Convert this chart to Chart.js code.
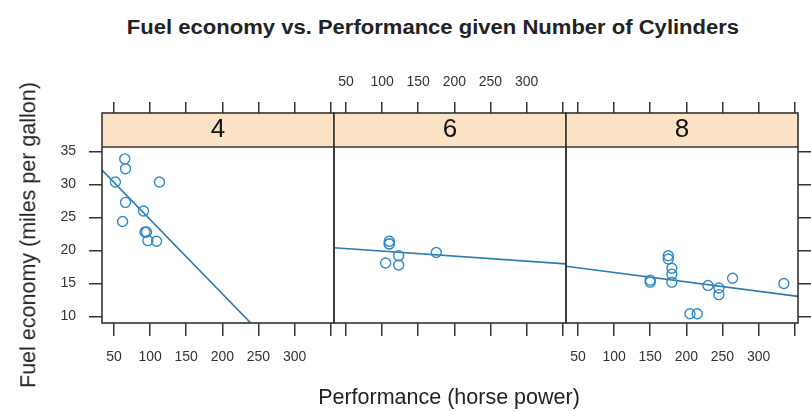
<!DOCTYPE html>
<html>
<head>
<meta charset="utf-8">
<title>Fuel economy vs. Performance given Number of Cylinders</title>
<script src="https://cdn.jsdelivr.net/npm/chart.js@4.4.1/dist/chart.umd.min.js"></script>
<style>
  html, body { margin: 0; padding: 0; background: #fff; width: 811px; height: 411px; overflow: hidden;
               font-family: "Liberation Sans", Arial, Helvetica, sans-serif; color: #222; }
  #wrap { position: relative; width: 811px; height: 411px; }
  #wrap canvas { position: absolute; left: 0; top: 0; }
  .lbl { position: absolute; white-space: nowrap; line-height: 1; }
</style>
</head>
<body>
<div id="wrap">
  <div class="lbl" id="mainTitle" style="left:433px;top:18px;font-size:19.5px;font-weight:bold;transform:translateX(-50%) scaleX(1.13);">Fuel economy vs. Performance given Number of Cylinders</div>
  <canvas id="panel0" width="811" height="411"></canvas>
  <canvas id="panel1" width="811" height="411"></canvas>
  <canvas id="panel2" width="811" height="411"></canvas>
  <div class="lbl" id="xLabel" style="left:449px;top:387px;font-size:21.5px;transform:translateX(-50%);">Performance (horse power)</div>
  <div class="lbl" id="yLabel" style="left:28.5px;top:235px;font-size:21.5px;transform:translate(-50%,-50%) rotate(-90deg);">Fuel economy (miles per gallon)</div>
</div>
<script>
// Panels: one per number of cylinders
const cylinders = ['4', '6', '8'];

// Horse power and miles per gallon, per cylinder group
const hp4  = [93, 62, 95, 66, 52, 65, 97, 66, 91, 113, 109];
const mpg4 = [22.8, 24.4, 22.8, 32.4, 30.4, 33.9, 21.5, 27.3, 26.0, 30.4, 21.4];

const hp6  = [110, 110, 110, 105, 123, 123, 175];
const mpg6 = [21.0, 21.0, 21.4, 18.1, 19.2, 17.8, 19.7];

const hp8  = [175, 245, 180, 180, 180, 205, 215, 230, 150, 150, 245, 175, 264, 335];
const mpg8 = [18.7, 14.3, 16.4, 17.3, 15.2, 10.4, 10.4, 14.7, 15.5, 15.2, 13.3, 19.2, 15.8, 15.0];

// Axis ticks and limits
const xTicks = [50, 100, 150, 200, 250, 300, 350];
const xTickLabels = ['50', '100', '150', '200', '250', '300', ''];
const yTicks = [10, 15, 20, 25, 30, 35];
const xLimits = [33.5, 354.5];
const yLimits = [9.0, 35.7];

const groups = [
  { hp: hp4, mpg: mpg4 },
  { hp: hp6, mpg: mpg6 },
  { hp: hp8, mpg: mpg8 }
];

// Layout of the trellis panels (page pixels)
const PANEL_LEFT = [102, 334, 566];
const PANEL_W = 232;
const STRIP_TOP = 113;
const PLOT_BOTTOM = 323;
const PAGE_W = 811, PAGE_H = 411;
const Y_AXIS_W = 50, Y_RIGHT_W = 12;
const X_AXIS_H = 50;

const POINT_COLOR = '#3089c8';
const LINE_COLOR = '#2c7bb0';
const FRAME_COLOR = '#333333';
const STRIP_FILL = '#fde3c6';
const TEXT_COLOR = '#333333';

Chart.defaults.font.family = '"Liberation Sans", Arial, Helvetica, sans-serif';

// Ordinary least-squares fit of mpg on hp
function leastSquares(xs, ys) {
  const n = xs.length;
  const mx = xs.reduce((a, b) => a + b, 0) / n;
  const my = ys.reduce((a, b) => a + b, 0) / n;
  let sxy = 0, sxx = 0;
  for (let i = 0; i < n; i++) {
    sxy += (xs[i] - mx) * (ys[i] - my);
    sxx += (xs[i] - mx) * (xs[i] - mx);
  }
  const slope = sxy / sxx;
  return { slope, intercept: my - slope * mx };
}

// Strip background and panel frame
const stripFrame = {
  id: 'stripFrame',
  beforeDraw(chart) {
    const t = chart.titleBlock;
    const ctx = chart.ctx;
    ctx.save();
    ctx.fillStyle = STRIP_FILL;
    ctx.fillRect(t.left, t.top, t.width, t.height);
    ctx.restore();
  },
  afterDraw(chart) {
    const { left, right, top, bottom } = chart.chartArea;
    const t = chart.titleBlock;
    const ctx = chart.ctx;
    ctx.save();
    ctx.strokeStyle = FRAME_COLOR;
    ctx.lineWidth = 1.6;
    ctx.strokeRect(left, t.top, right - left, bottom - t.top);
    ctx.beginPath();
    ctx.moveTo(left, top);
    ctx.lineTo(right, top);
    ctx.stroke();
    ctx.restore();
  }
};

function tickGrid(len) {
  return { drawOnChartArea: false, drawTicks: true, tickLength: len, color: FRAME_COLOR, lineWidth: 1.5 };
}

function buildPanel(i) {
  const g = groups[i];
  const fit = leastSquares(g.hp, g.mpg);
  const points = g.hp.map((h, k) => ({ x: h, y: g.mpg[k] }));
  const fitLine = xLimits.map(x => ({ x: x, y: fit.intercept + fit.slope * x }));

  const labelLeft = i === 0;
  const tickRight = i === 2;
  const showY = labelLeft || tickRight;
  const bottomLabels = i !== 1;
  const topLabels = i === 1;
  const topAxisH = topLabels ? 45 : 11;

  const padLeft = labelLeft ? PANEL_LEFT[i] - Y_AXIS_W : PANEL_LEFT[i];
  const padRight = PAGE_W - (PANEL_LEFT[i] + PANEL_W) - (tickRight ? Y_RIGHT_W : 0);

  return new Chart(document.getElementById('panel' + i), {
    type: 'scatter',
    data: {
      datasets: [
        {
          data: points,
          showLine: false,
          pointStyle: 'circle',
          pointRadius: 5,
          pointBorderWidth: 1.4,
          pointBorderColor: POINT_COLOR,
          pointBackgroundColor: 'rgba(0,0,0,0)',
          borderColor: POINT_COLOR,
          backgroundColor: 'rgba(0,0,0,0)'
        },
        {
          data: fitLine,
          showLine: true,
          pointRadius: 0,
          borderColor: LINE_COLOR,
          borderWidth: 1.6
        }
      ]
    },
    options: {
      responsive: false,
      animation: false,
      devicePixelRatio: 1,
      events: [],
      layout: {
        padding: { left: padLeft, right: padRight, top: STRIP_TOP - topAxisH, bottom: PAGE_H - PLOT_BOTTOM - X_AXIS_H }
      },
      plugins: {
        legend: { display: false },
        tooltip: { enabled: false },
        title: {
          display: true,
          text: cylinders[i],
          position: 'top',
          fullSize: false,
          weight: -10,
          color: '#111',
          font: { size: 26, weight: 'normal', lineHeight: 1 },
          padding: { top: 4, bottom: 4 }
        }
      },
      scales: {
        x: {
          type: 'linear',
          position: 'bottom',
          min: xLimits[0], max: xLimits[1],
          afterBuildTicks: s => { s.ticks = xTicks.map(v => ({ value: v })); },
          afterFit: s => { s.height = X_AXIS_H; },
          grid: tickGrid(13),
          border: { display: false },
          ticks: {
            display: bottomLabels,
            padding: 13,
            color: TEXT_COLOR,
            font: { size: 14 },
            maxRotation: 0,
            autoSkip: false,
            callback: (v, idx) => xTickLabels[idx]
          }
        },
        xTop: {
          type: 'linear',
          position: 'top',
          weight: 1,
          min: xLimits[0], max: xLimits[1],
          afterBuildTicks: s => { s.ticks = xTicks.map(v => ({ value: v })); },
          afterFit: s => { s.height = topAxisH; },
          grid: tickGrid(11),
          border: { display: false },
          ticks: {
            display: topLabels,
            padding: 11,
            color: TEXT_COLOR,
            font: { size: 14 },
            maxRotation: 0,
            autoSkip: false,
            callback: (v, idx) => xTickLabels[idx]
          }
        },
        y: {
          type: 'linear',
          display: showY,
          position: tickRight ? 'right' : 'left',
          min: yLimits[0], max: yLimits[1],
          afterBuildTicks: s => { s.ticks = yTicks.map(v => ({ value: v })); },
          afterFit: s => { s.width = labelLeft ? Y_AXIS_W : (tickRight ? Y_RIGHT_W : 0); },
          grid: tickGrid(13),
          border: { display: false },
          ticks: {
            display: labelLeft,
            padding: 13,
            color: TEXT_COLOR,
            font: { size: 14 },
            autoSkip: false
          }
        }
      }
    },
    plugins: [stripFrame]
  });
}

cylinders.forEach((c, i) => buildPanel(i));
</script>
</body>
</html>
